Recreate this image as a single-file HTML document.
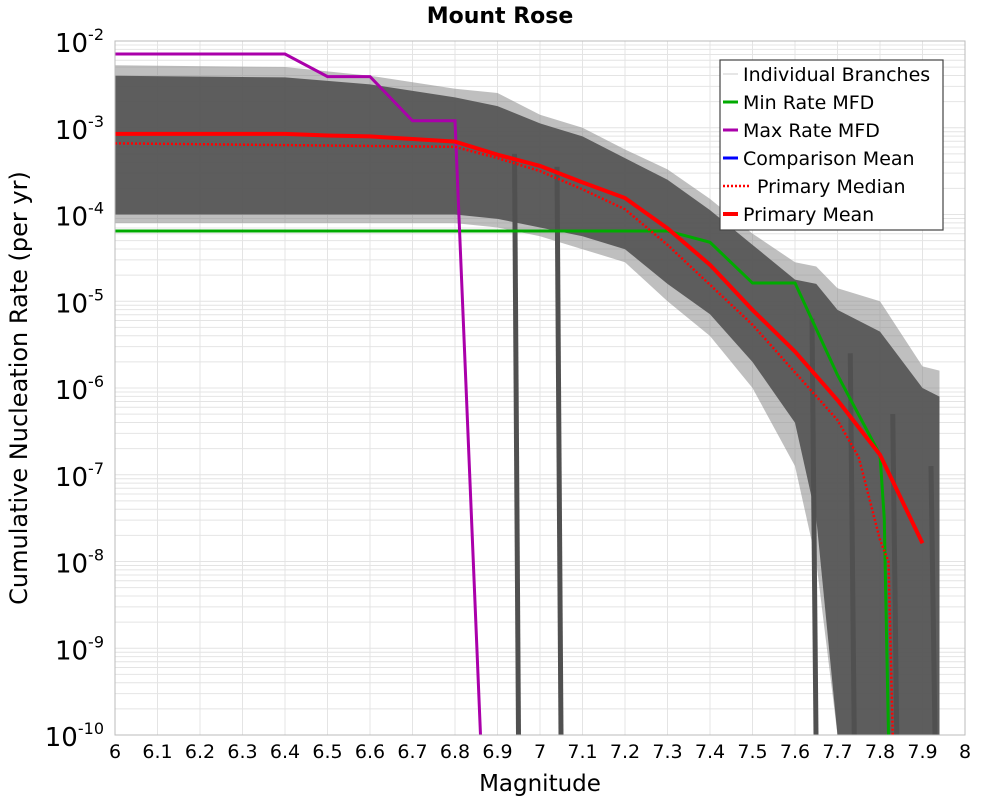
<!DOCTYPE html>
<html><head><meta charset="utf-8"><style>
body{margin:0;background:#fff;font-family:"Liberation Sans","DejaVu Sans",sans-serif}
svg text{font-family:"DejaVu Sans","Liberation Sans",sans-serif}
</style></head><body>
<svg id="c" width="1000" height="800" viewBox="0 0 1000 800" xmlns="http://www.w3.org/2000/svg">
<text x="500" y="23" text-anchor="middle" font-size="22" font-weight="bold">Mount Rose</text>
<text transform="translate(27,388) rotate(-90)" text-anchor="middle" font-size="24">Cumulative Nucleation Rate (per yr)</text>
<text x="540" y="791" text-anchor="middle" font-size="23">Magnitude</text>
<g id="grid"></g><g id="band"></g><g id="lines"></g><g id="axes"></g>
<g>
<rect x="720" y="60" width="223" height="170" fill="#fff" stroke="#444" stroke-width="1.2"/>
<line x1="723" y1="74" x2="738" y2="74" stroke="#ccc" stroke-width="1"/><text x="743" y="81" font-size="19">Individual Branches</text>
<line x1="723" y1="102" x2="738" y2="102" stroke="#00aa00" stroke-width="3"/><text x="743" y="109" font-size="19">Min Rate MFD</text>
<line x1="723" y1="130" x2="738" y2="130" stroke="#aa00aa" stroke-width="3"/><text x="743" y="137" font-size="19">Max Rate MFD</text>
<line x1="723" y1="158" x2="738" y2="158" stroke="#0000ff" stroke-width="3"/><text x="743" y="165" font-size="19">Comparison Mean</text>
<line x1="723" y1="186" x2="751" y2="186" stroke="#ff0000" stroke-width="2.5" stroke-dasharray="2,2"/><text x="757" y="193" font-size="19">Primary Median</text>
<line x1="723" y1="214" x2="738" y2="214" stroke="#ff0000" stroke-width="4"/><text x="743" y="221" font-size="19">Primary Mean</text>
</g>
</svg>
<script>
const mags=[6,6.1,6.2,6.3,6.4,6.5,6.6,6.7,6.8,6.9,7.0,7.1,7.2,7.3,7.4,7.5,7.6,7.7,7.8,7.9];
const meanLog=[-3.07,-3.07,-3.07,-3.07,-3.07,-3.09,-3.1,-3.13,-3.16,-3.31,-3.44,-3.63,-3.81,-4.16,-4.58,-5.1,-5.58,-6.14,-6.77,-7.79];
const medianMags=[6,6.8,6.9,7.0,7.1,7.2,7.3,7.4,7.5,7.6,7.7,7.75,7.8,7.82,7.83];
const medianLog=[-3.18,-3.22,-3.35,-3.5,-3.71,-3.94,-4.35,-4.81,-5.27,-5.82,-6.37,-6.8,-7.75,-8.0,-10];
const minMags=[6,7.3,7.4,7.5,7.6,7.7,7.8,7.81,7.82];
const minLog=[-4.19,-4.19,-4.32,-4.79,-4.79,-5.85,-6.77,-7.5,-10];
const maxMags=[6,6.4,6.5,6.6,6.7,6.8,6.86];
const maxLog=[-2.15,-2.15,-2.41,-2.41,-2.92,-2.92,-10];
const bandMags=[6,6.4,6.6,6.8,6.9,7.0,7.1,7.2,7.3,7.4,7.5,7.6,7.65,7.7,7.8,7.9,7.94];
const bandUpper=[-2.28,-2.3,-2.4,-2.55,-2.6,-2.85,-3.0,-3.25,-3.48,-3.82,-4.22,-4.55,-4.6,-4.85,-5.0,-5.75,-5.8];
const bandLower=[-4.1,-4.1,-4.1,-4.1,-4.15,-4.25,-4.4,-4.55,-5.0,-5.4,-6.0,-6.9,-8.0,-10,-10,-10,-10];
const coreUpper=[-2.4,-2.42,-2.5,-2.65,-2.75,-2.95,-3.1,-3.35,-3.6,-3.95,-4.35,-4.75,-4.8,-5.1,-5.35,-6.0,-6.1];
const coreLower=[-4.0,-4.0,-4.0,-4.0,-4.05,-4.15,-4.25,-4.4,-4.8,-5.15,-5.7,-6.4,-7.5,-10,-10,-10,-10];
const dropMags=[6.94,7.04,7.64,7.73,7.83,7.92];
const dropTopLog=[-3.3,-3.45,-5.2,-5.6,-6.3,-6.9];
const xTicks=[6,6.1,6.2,6.3,6.4,6.5,6.6,6.7,6.8,6.9,7,7.1,7.2,7.3,7.4,7.5,7.6,7.7,7.8,7.9,8];
const yTicks=[-2,-3,-4,-5,-6,-7,-8,-9,-10];
const X0=115,X1=965,Y0=41,Y1=735;
const xs=m=>X0+(m-6)/2*(X1-X0);
const ys=l=>Y0+(-2-l)/8*(Y1-Y0);
const NS="http://www.w3.org/2000/svg";
function mk(p,t,a){const e=document.createElementNS(NS,t);for(const k in a)e.setAttribute(k,a[k]);document.getElementById(p).appendChild(e);return e;}
xTicks.forEach(m=>{const e=mk('grid','line',{x1:xs(m),x2:xs(m),y1:Y0,y2:Y1,stroke:'#e4e4e4'});

});
for(let d=-10;d<-2;d++)for(let k=1;k<10;k++){const l=d+Math.log10(k);const e=mk('grid','line',{x1:X0,x2:X1,y1:ys(l),y2:ys(l),stroke:'#e4e4e4'});

}
function poly(xa,ua,la){let p=xa.map((m,i)=>xs(m)+','+ys(ua[i]));for(let i=xa.length-1;i>=0;i--)p.push(xs(xa[i])+','+ys(la[i]));return p.join(' ');}
let b=mk('band','polygon',{points:poly(bandMags,bandUpper,bandLower),fill:'#8a8a8a','fill-opacity':0.55});


b=mk('band','polygon',{points:poly(bandMags,coreUpper,coreLower),fill:'#555','fill-opacity':0.92});


dropMags.forEach((m,i)=>{const e=mk('band','line',{x1:xs(m),x2:xs(m)+4,y1:ys(dropTopLog[i]),y2:Y1,stroke:'#505050','stroke-width':5});

});
function path(xa,la,attrs,name){const d=xa.map((m,i)=>(i?'L':'M')+xs(m)+','+ys(la[i])).join('');const e=mk('lines','path',Object.assign({d:d,fill:'none'},attrs));

}
path(minMags,minLog,{stroke:'#00aa00','stroke-width':3},'min-rate-line');
path(maxMags,maxLog,{stroke:'#aa00aa','stroke-width':3},'max-rate-line');
path(medianMags,medianLog,{stroke:'#ff0000','stroke-width':2.5,'stroke-dasharray':'2,2'},'median-line');
path(mags,meanLog,{stroke:'#ff0000','stroke-width':4},'mean-line');
let r=mk('axes','rect',{x:X0,y:Y0,width:X1-X0,height:Y1-Y0,fill:'none',stroke:'#bbb'});


xTicks.forEach(m=>{const t=mk('axes','text',{x:xs(m),y:758,'text-anchor':'middle','font-size':19});t.textContent=String(m);

});
yTicks.forEach(l=>{const t=mk('axes','text',{x:104,y:ys(l)+11,'text-anchor':'end','font-size':26});


const a=document.createElementNS(NS,'tspan');a.textContent='10';t.appendChild(a);
const s=document.createElementNS(NS,'tspan');s.setAttribute('dy','-12');s.setAttribute('font-size','16');s.textContent=String(l);t.appendChild(s);});
</script>
</body></html>
